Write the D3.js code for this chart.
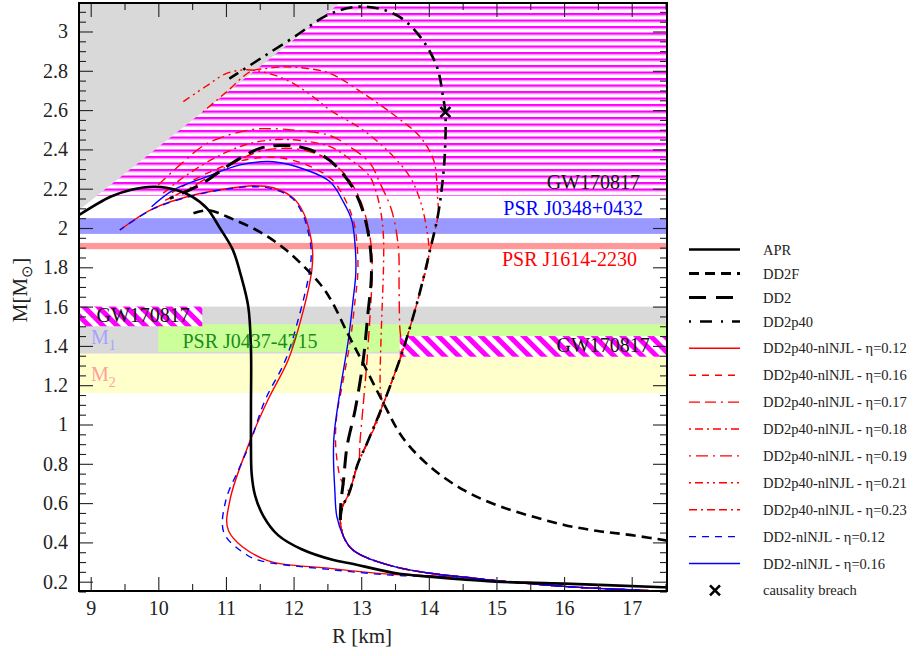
<!DOCTYPE html>
<html><head><meta charset="utf-8">
<script src="https://cdn.jsdelivr.net/npm/d3@7"></script>
<style>
body{margin:0;background:#fff}
svg{display:block}
text{font-family:"Liberation Serif","Times New Roman",serif}
</style>
</head><body>
<svg id="c" width="913" height="656"></svg>
<script>
// ---------------- DATA ----------------
const xTicks = [9,10,11,12,13,14,15,16,17];
const xMinorTicks = [9.5,10.5,11.5,12.5,13.5,14.5,15.5,16.5,17.5];
const yTicks = [0.2,0.4,0.6,0.8,1,1.2,1.4,1.6,1.8,2,2.2,2.4,2.6,2.8,3];
const yTickLabels = ["0.2","0.4","0.6","0.8","1","1.2","1.4","1.6","1.8","2","2.2","2.4","2.6","2.8","3"];

// constraint bands (mass ranges in M_sun, radius ranges in km)
const gwUpperBand = [2.165, 3.3];
const psrJ0348Band = [1.97, 2.05];
const psrJ1614Band = [1.892, 1.924];
const m1Band = [1.36, 1.6];
const m2Band = [1.16, 1.36];
const psrJ0437R = [10, 18];
const psrJ0437M = [1.37, 1.51];
const gwLeftR = [8.5, 10.65];
const gwLeftM = [1.5, 1.6];
const gwRightR = [13.57, 18];
const gwRightM = [1.345, 1.45];
const causalityRegion = [[8.5,2.003],[12.75,3.162],[8.5,3.162]];

// mass-radius curves [R km, M Msun]
const apr = [[17.7,0.169],[17.47,0.172],[16.0,0.19],[15.0,0.2],[14.5,0.212],[14.0,0.226],[13.52,0.243],[12.83,0.294],[12.59,0.31],[12.12,0.365],[11.77,0.437],[11.56,0.53],[11.43,0.64],[11.38,0.75],[11.37,0.9],[11.37,1.1],[11.37,1.38],[11.33,1.6],[11.22,1.76],[11.1,1.89],[10.91,2.0],[10.72,2.1],[10.5,2.16],[10.3,2.19],[9.95,2.21],[9.6,2.195],[9.3,2.16],[8.8,2.06]];
const dd2f = [[10.52,2.075],[10.74,2.09],[11.1,2.045],[11.5,1.98],[11.9,1.885],[12.38,1.72],[12.56,1.63],[12.79,1.47],[13.03,1.311],[13.33,1.108],[13.62,0.93],[14.02,0.785],[14.51,0.667],[15.0,0.59],[15.5,0.535],[16.0,0.489],[16.5,0.458],[17.0,0.437],[17.6,0.405]];
const hadronicLow = [[17.7,0.146],[17.27,0.154],[16.5,0.166],[16.0,0.176],[15.5,0.19],[15.0,0.205],[14.5,0.224],[14.02,0.243],[13.52,0.274],[13.03,0.33],[12.85,0.37],[12.74,0.429],[12.69,0.514]];
const dd2 = [[12.69,0.514],[12.7,0.6],[12.74,0.72],[12.79,0.887],[12.91,1.074],[13.03,1.328],[13.1,1.566],[13.15,1.75],[13.14,1.88],[13.07,2.03],[12.93,2.17],[12.72,2.28],[12.45,2.365],[12.1,2.412],[11.8,2.42],[11.5,2.405],[11.11,2.335],[10.62,2.22],[10.17,2.151]];
const dd2p40 = [[12.69,0.514],[12.72,0.58],[12.82,0.65],[12.95,0.8],[13.08,0.9],[13.33,1.108],[13.57,1.33],[13.7,1.47],[13.85,1.65],[14.02,1.89],[14.14,2.075],[14.21,2.26],[14.24,2.4],[14.245,2.584],[14.21,2.668],[14.12,2.82],[13.87,2.974],[13.52,3.084],[13.03,3.127],[12.54,3.09],[12.0,2.97],[11.5,2.86],[11.05,2.76]];
const causalityBreach = [[14.245,2.59]];

// quark branches (first point = onset on hadronic branch)
const nl_p40_012 = [[14.5,0.224],[14.0,0.23],[13.52,0.236],[12.54,0.268],[11.55,0.316],[11.04,0.458],[11.06,0.616],[11.36,0.92],[11.62,1.125],[11.92,1.328],[12.12,1.549],[12.27,1.786],[12.28,1.888],[12.23,1.99],[12.15,2.075],[12.0,2.151],[11.7,2.205],[11.4,2.215],[11.01,2.2],[10.52,2.168],[9.93,2.1],[9.43,1.99]];
const nl_p40_016 = [[12.82,0.65],[12.7,0.72],[12.65,0.8],[12.62,0.92],[12.64,1.05],[12.72,1.2],[12.84,1.43],[12.91,1.634],[12.95,1.77],[12.94,1.91],[12.89,2.03],[12.77,2.14],[12.57,2.245],[12.2,2.32],[11.72,2.36],[11.2,2.34],[10.7,2.275],[10.2,2.18]];
const nl_p40_017 = [[12.97,0.82],[12.98,0.9],[13.03,1.1],[13.08,1.3],[13.13,1.55],[13.16,1.75],[13.15,1.9],[13.08,2.04],[12.95,2.17],[12.74,2.28],[12.45,2.36],[12.1,2.4],[11.8,2.405],[11.45,2.385],[11.0,2.31],[10.5,2.21],[10.1,2.14]];
const nl_p40_018 = [[13.3,1.08],[13.28,1.2],[13.29,1.4],[13.31,1.6],[13.33,1.8],[13.33,1.95],[13.3,2.06],[13.24,2.16],[13.13,2.26],[12.85,2.346],[12.54,2.414],[12.1,2.445],[11.75,2.45],[11.3,2.425],[10.8,2.35],[10.3,2.24],[10.05,2.17]];
const nl_p40_019 = [[13.6,1.36],[13.57,1.5],[13.56,1.7],[13.55,1.9],[13.45,2.09],[13.28,2.227],[13.13,2.33],[12.83,2.414],[12.54,2.47],[12.1,2.495],[11.7,2.505],[11.36,2.5],[10.72,2.43],[10.35,2.33],[10.0,2.22]];
const nl_p40_021 = [[14.0,1.86],[13.97,1.99],[13.87,2.142],[13.72,2.26],[13.43,2.38],[13.03,2.498],[12.54,2.6],[12.29,2.668],[11.95,2.744],[11.6,2.79],[11.3,2.805],[11.01,2.787],[10.7,2.72],[10.37,2.643]];
const nl_p40_023 = [[14.14,2.075],[14.13,2.15],[14.12,2.227],[14.07,2.346],[13.87,2.464],[13.52,2.566],[13.03,2.685],[12.54,2.787],[12.2,2.812],[11.9,2.82],[11.6,2.812],[11.36,2.795],[11.0,2.69],[10.66,2.591]];
const nl_dd2_012 = [[14.5,0.224],[14.0,0.228],[13.5,0.232],[12.54,0.262],[11.53,0.305],[11.31,0.336],[10.97,0.449],[11.0,0.616],[11.2,0.78],[11.35,0.9],[11.58,1.125],[11.88,1.328],[12.08,1.549],[12.24,1.786],[12.26,1.888],[12.21,1.99],[12.13,2.075],[11.98,2.151],[11.7,2.198],[11.4,2.21],[11.01,2.198],[10.52,2.165],[9.93,2.098],[9.43,1.99]];
const nl_dd2_016 = [[12.74,0.429],[12.64,0.531],[12.61,0.667],[12.59,0.836],[12.6,0.95],[12.69,1.176],[12.81,1.43],[12.88,1.634],[12.92,1.769],[12.91,1.91],[12.86,2.04],[12.74,2.13],[12.54,2.235],[12.19,2.295],[11.7,2.337],[11.21,2.321],[10.72,2.261],[10.22,2.193],[9.9,2.108]];

const legendLabels = ["APR","DD2F","DD2","DD2p40",
  "DD2p40-nlNJL - η=0.12","DD2p40-nlNJL - η=0.16","DD2p40-nlNJL - η=0.17","DD2p40-nlNJL - η=0.18",
  "DD2p40-nlNJL - η=0.19","DD2p40-nlNJL - η=0.21","DD2p40-nlNJL - η=0.23",
  "DD2-nlNJL - η=0.12","DD2-nlNJL - η=0.16","causality breach"];

// ---------------- BUILD ----------------
function withHadronLowP40(q){ // hadronic low branch + DD2p40 branch up to onset, then quark branch
  const on = q[0];
  let h;
  if (on[1] < 0.514) h = hadronicLow.filter(p => p[0] > on[0]);
  else h = hadronicLow.concat(dd2p40.slice(1).filter(p => p[1] < on[1]));
  return h.concat(q);
}
function withHadronLow(q){
  return hadronicLow.filter(p => p[0] > q[0][0]).concat(q);
}

const svg = d3.select("#c");
const L=79, R=667, T=3, B=591;
const x = d3.scaleLinear().domain([8.827, 17.522]).range([L, R]);
const y = d3.scaleLinear().domain([0.1527, 3.145]).range([B, T]);

const defs = svg.append("defs");
defs.append("clipPath").attr("id","clip").append("rect").attr("x",L).attr("y",T).attr("width",R-L).attr("height",B-T);
const hp = defs.append("pattern").attr("id","hstripe").attr("patternUnits","userSpaceOnUse").attr("width",20).attr("height",6.5);
hp.append("rect").attr("width",20).attr("height",6.5).attr("fill","#fff");
hp.append("rect").attr("y",0).attr("width",20).attr("height",2.4).attr("fill","#ff00ff");
hp.append("rect").attr("y",2.4).attr("width",20).attr("height",0.9).attr("fill","#ffa6ff");
const hat = defs.append("pattern").attr("id","hatch").attr("patternUnits","userSpaceOnUse").attr("width",10).attr("height",10).attr("patternTransform","rotate(-45)");
hat.append("rect").attr("width",10).attr("height",10).attr("fill","#fff");
hat.append("rect").attr("width",5).attr("height",10).attr("fill","#ff00ff");

const plot = svg.append("g").attr("clip-path","url(#clip)");
function band(r0,r1,m0,m1,fill){
  plot.append("rect").attr("x",x(r0)).attr("y",y(m1)).attr("width",x(r1)-x(r0)).attr("height",y(m0)-y(m1)).attr("fill",fill);
}
band(8.5,18,gwUpperBand[0],gwUpperBand[1],"url(#hstripe)");
plot.append("path").attr("d", d3.line().x(d=>x(d[0])).y(d=>y(d[1]))(causalityRegion)+"Z").attr("fill","#d9d9d9");
band(8.5,18,psrJ0348Band[0],psrJ0348Band[1],"#9999ff");
band(8.5,18,psrJ1614Band[0],psrJ1614Band[1],"#ff9999");
band(8.5,18,m1Band[0],m1Band[1],"#d9d9d9");
band(psrJ0437R[0],psrJ0437R[1],psrJ0437M[0],psrJ0437M[1],"#ccff99");
band(8.5,18,m2Band[0],m2Band[1],"#ffffcc");
band(gwLeftR[0],gwLeftR[1],gwLeftM[0],gwLeftM[1],"url(#hatch)");
band(gwRightR[0],gwRightR[1],gwRightM[0],gwRightM[1],"url(#hatch)");

// annotations
const ann = svg.append("g").attr("font-size",20);
ann.append("text").attr("x",640).attr("y",188.5).attr("text-anchor","end").attr("fill","#111").text("GW170817");
ann.append("text").attr("x",643).attr("y",215).attr("text-anchor","end").attr("fill","#0000ff").text("PSR J0348+0432");
ann.append("text").attr("x",637).attr("y",266).attr("text-anchor","end").attr("fill","#ff0000").text("PSR J1614-2230");
ann.append("text").attr("x",182.5).attr("y",348).attr("fill","#1a8c1a").text("PSR J0437-4715");
ann.append("text").attr("x",96.5).attr("y",322).attr("fill","#111").text("GW170817");
ann.append("text").attr("x",556.5).attr("y",351.5).attr("fill","#111").text("GW170817");
const m1t = ann.append("text").attr("x",91).attr("y",343.5).attr("fill","#a3a3ff");
m1t.append("tspan").text("M");
m1t.append("tspan").attr("dy",6).attr("font-size",14).text("1");
const m2t = ann.append("text").attr("x",91).attr("y",380.5).attr("fill","#ffa0a0");
m2t.append("tspan").text("M");
m2t.append("tspan").attr("dy",6).attr("font-size",14).text("2");

// curves
const line = d3.line().x(d=>x(d[0])).y(d=>y(d[1])).curve(d3.curveCatmullRom.alpha(0.5));
const RED="#ff0000", BLUE="#0000ff", BLK="#000";
const series = [
  {pts:withHadronLowP40(nl_p40_023), c:RED, w:1.4, dash:"8,4,2,4,8,4"},
  {pts:withHadronLowP40(nl_p40_021), c:RED, w:1.4, dash:"2,4,8,4,2,4"},
  {pts:withHadronLowP40(nl_p40_019), c:RED, w:1.4, dash:"2,5,12,5"},
  {pts:withHadronLowP40(nl_p40_018), c:RED, w:1.4, dash:"2,4,8,4"},
  {pts:withHadronLowP40(nl_p40_017), c:RED, w:1.4, dash:"11,5,11,5,2,5"},
  {pts:withHadronLowP40(nl_p40_016), c:RED, w:1.4, dash:"7,6"},
  {pts:withHadronLowP40(nl_p40_012), c:RED, w:1.4, dash:null},
  {pts:withHadronLow(nl_dd2_016), c:BLUE, w:1.4, dash:null},
  {pts:withHadronLow(nl_dd2_012), c:BLUE, w:1.4, dash:"7,6"},
  {pts:apr, c:BLK, w:2.6, dash:null},
  {pts:dd2f, c:BLK, w:2.6, dash:"10,6"},
  {pts:dd2, c:BLK, w:3, dash:"17,9"},
  {pts:dd2p40, c:BLK, w:2.6, dash:"12,6,2.5,6"}
];
const cg = plot.append("g").attr("fill","none");
series.forEach(s=>{
  cg.append("path").attr("d",line(s.pts)).attr("stroke",s.c).attr("stroke-width",s.w)
    .attr("stroke-dasharray",s.dash).attr("stroke-linejoin","round");
});
function cross(g,cx,cy){
  g.append("path").attr("d",`M${cx-5},${cy-5}L${cx+5},${cy+5}M${cx-5},${cy+5}L${cx+5},${cy-5}`)
   .attr("stroke","#000").attr("stroke-width",2.6).attr("fill","none");
}
causalityBreach.forEach(p=>cross(plot,x(p[0]),y(p[1])));

// axes
const ax = svg.append("g");
function styleAxis(g){ g.select(".domain").remove(); g.selectAll(".tick line").attr("stroke","#222").attr("stroke-width",1.1); }
ax.append("g").attr("transform",`translate(0,${B})`).call(d3.axisBottom(x).tickValues(xTicks).tickSize(-14).tickPadding(10).tickFormat(d3.format("d")))
  .call(styleAxis).call(g=>g.selectAll("text").attr("font-size",20).attr("fill","#222").attr("font-family","Liberation Serif, serif"));
ax.append("g").attr("transform",`translate(0,${B})`).call(d3.axisBottom(x).tickValues(xMinorTicks.filter(v=>v<17.52)).tickSize(-7).tickFormat("")).call(styleAxis);
ax.append("g").attr("transform",`translate(0,${T})`).call(d3.axisTop(x).tickValues(xTicks).tickSize(-14).tickFormat("")).call(styleAxis);
ax.append("g").attr("transform",`translate(0,${T})`).call(d3.axisTop(x).tickValues(xMinorTicks.filter(v=>v<17.52)).tickSize(-7).tickFormat("")).call(styleAxis);
const yMinor = d3.range(0.15,3.15,0.05).map(v=>+v.toFixed(2)).filter(v=>Math.abs(v*5-Math.round(v*5))>1e-6);
ax.append("g").attr("transform",`translate(${L},0)`).call(d3.axisLeft(y).tickValues(yTicks).tickSize(-14).tickPadding(11).tickFormat((d,i)=>yTickLabels[i]))
  .call(styleAxis).call(g=>g.selectAll("text").attr("font-size",20).attr("fill","#222").attr("font-family","Liberation Serif, serif"));
ax.append("g").attr("transform",`translate(${L},0)`).call(d3.axisLeft(y).tickValues(yMinor).tickSize(-7).tickFormat("")).call(styleAxis);
ax.append("g").attr("transform",`translate(${R},0)`).call(d3.axisRight(y).tickValues(yTicks).tickSize(-14).tickFormat("")).call(styleAxis);
ax.append("g").attr("transform",`translate(${R},0)`).call(d3.axisRight(y).tickValues(yMinor).tickSize(-7).tickFormat("")).call(styleAxis);
svg.append("rect").attr("x",L).attr("y",T).attr("width",R-L).attr("height",B-T).attr("fill","none").attr("stroke","#000").attr("stroke-width",2);

svg.append("text").attr("x",362).attr("y",643).attr("text-anchor","middle").attr("font-size",21).attr("fill","#222").text("R [km]");
const yl = svg.append("text").attr("transform","translate(27,290) rotate(-90)").attr("text-anchor","middle").attr("font-size",21).attr("fill","#222");
yl.append("tspan").text("M[M");
yl.append("tspan").attr("dy",5).attr("font-size",15).text("⊙");
yl.append("tspan").attr("dy",-5).text("]");

// legend
const legStyles = [
  {c:BLK,w:2.6,dash:null},{c:BLK,w:3,dash:"10,6"},{c:BLK,w:3,dash:"17,10"},{c:BLK,w:2.6,dash:"2,9,12,9"},
  {c:RED,w:1.4,dash:null},{c:RED,w:1.4,dash:"7,6"},{c:RED,w:1.4,dash:"11,5,11,5,2,5"},{c:RED,w:1.4,dash:"2,4,8,4"},
  {c:RED,w:1.4,dash:"2,5,12,5"},{c:RED,w:1.4,dash:"2,4,8,4,2,4"},{c:RED,w:1.4,dash:"8,4,2,4,8,4"},
  {c:BLUE,w:1.4,dash:"7,6"},{c:BLUE,w:1.4,dash:null},null
];
const leg = svg.append("g");
legendLabels.forEach((lab,i)=>{
  const ly = i<4 ? 249.5+24*i : 348.3+26.9*(i-4);
  const st = legStyles[i];
  if (st) leg.append("line").attr("x1",689).attr("x2",740).attr("y1",ly).attr("y2",ly)
      .attr("stroke",st.c).attr("stroke-width",st.w).attr("stroke-dasharray",st.dash);
  else cross(leg,715,ly);
  leg.append("text").attr("x",763).attr("y",ly+5).attr("font-size",14.5).attr("fill","#222").text(lab);
});
</script>
</body></html>
